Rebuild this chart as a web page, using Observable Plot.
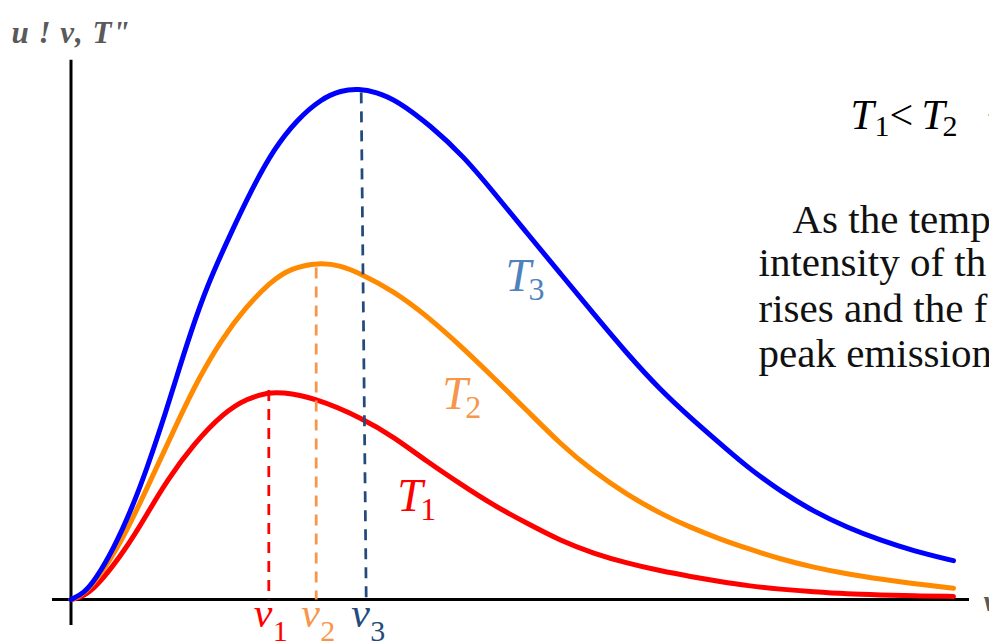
<!DOCTYPE html>
<html><head><meta charset="utf-8">
<script src="https://cdn.jsdelivr.net/npm/d3@7"></script>
<script src="https://cdn.jsdelivr.net/npm/@observablehq/plot@0.6"></script>
<style>html,body{margin:0;padding:0;background:#fff;overflow:hidden;} #chart svg{overflow:hidden;display:block;}</style>
</head><body><div id="chart"></div>
<script>
// ---- data (frequency ν in arbitrary units, spectral energy density u normalised to the T3 peak) ----
const seriesNames = ["T1", "T2", "T3"];
const nuT1 = [0, 0.195, 0.562, 0.762, 0.96, 1.228, 1.528, 1.762, 1.975, 2.095, 2.425, 2.925, 3.228, 3.562, 3.895, 4.228, 4.562, 4.895, 5.228, 5.562, 5.895, 6.195, 6.495, 6.762, 7.095, 7.428, 7.762, 8.095, 8.428, 8.825];
const uT1  = [0, 0.008, 0.102, 0.168, 0.233, 0.305, 0.366, 0.394, 0.405, 0.406, 0.396, 0.354, 0.318, 0.270, 0.226, 0.184, 0.149, 0.115, 0.090, 0.071, 0.056, 0.045, 0.035, 0.027, 0.020, 0.015, 0.011, 0.009, 0.007, 0.006];
const nuT2 = [0, 0.162, 0.5, 0.8, 1.095, 1.275, 1.5, 1.75, 1.995, 2.2, 2.478, 2.7, 2.895, 3.228, 3.562, 3.895, 4.228, 4.562, 4.895, 5.228, 5.562, 5.895, 6.195, 6.495, 6.762, 7.095, 7.428, 7.762, 8.095, 8.428, 8.825];
const uT2  = [0, 0.011, 0.108, 0.235, 0.360, 0.432, 0.508, 0.573, 0.622, 0.649, 0.660, 0.654, 0.638, 0.604, 0.555, 0.497, 0.434, 0.370, 0.304, 0.250, 0.205, 0.168, 0.141, 0.118, 0.100, 0.079, 0.063, 0.050, 0.040, 0.031, 0.022];
const nuT3 = [0, 0.128, 0.245, 0.428, 0.612, 0.762, 0.912, 1.045, 1.2, 1.362, 1.595, 1.812, 2.028, 2.262, 2.5, 2.7, 2.878, 3.05, 3.262, 3.595, 3.925, 4.228, 4.562, 4.895, 5.228, 5.562, 5.895, 6.2, 6.428, 6.762, 7.095, 7.428, 7.762, 8.095, 8.428, 8.825];
const uT3  = [0, 0.012, 0.039, 0.100, 0.180, 0.258, 0.345, 0.429, 0.525, 0.615, 0.716, 0.805, 0.882, 0.940, 0.980, 0.997, 1.000, 0.994, 0.977, 0.928, 0.868, 0.797, 0.717, 0.638, 0.559, 0.481, 0.410, 0.355, 0.316, 0.259, 0.212, 0.172, 0.141, 0.116, 0.095, 0.076];
const peakNuTop    = [1.978, 2.452, 2.902];
const peakNuBottom = [1.978, 2.452, 2.952];
const peakU        = [0.410, 0.650, 0.993];
const peakLabels   = ["ν", "ν", "ν"];
const peakSubs     = ["1", "2", "3"];
const curveLabelNu = [3.262, 3.712, 4.345];
const curveLabelU  = [0.174, 0.374, 0.605];
const curveLabelSubs = ["1", "2", "3"];
const yAxisLabel = "u ! ν, T\"";
const xAxisLabel = "ν";
const paragraphLines = ["As the temp", "intensity of th", "rises and the f", "peak emission"];

// ---- styles ----
const curveColors = ["#ff0000", "#ff8a00", "#0000ff"];
const dashColors  = ["#ff0000", "#f7964a", "#244a7c"];
const labelColors = ["#ff0000", "#f7964a", "#4f81bd"];
const serif = "Liberation Serif, Times New Roman, serif";

const curves = [[nuT1, uT1], [nuT2, uT2], [nuT3, uT3]].map(([xs, ys], i) =>
  xs.map((nu, j) => ({series: seriesNames[i], nu, u: ys[j]})));
const peaks = peakNuTop.map((n, i) => ({i, x1: n, x2: peakNuBottom[i], y1: peakU[i], y2: 0}));
const nuLabels = peakNuBottom.map((n, i) => ({i, nu: n, u: 0, t: peakLabels[i], s: peakSubs[i]}));
const tLabels = curveLabelNu.map((n, i) => ({i, nu: n, u: curveLabelU[i], s: curveLabelSubs[i]}));

const txt = (str, o) => Plot.text([str], {frameAnchor: "top-left", textAnchor: "start", lineAnchor: "bottom", fontFamily: serif, ...o});

const chart = Plot.plot({
  width: 989, height: 644,
  marginTop: 0, marginRight: 0, marginBottom: 0, marginLeft: 0,
  x: {domain: [-0.705, 9.185], range: [0, 989], axis: null},
  y: {domain: [-0.0881, 1.1729], range: [644, 0], axis: null},
  style: {background: "#fff", overflow: "hidden"},
  marks: [
    // axes
    Plot.ruleY([0], {x1: -0.185, x2: 8.985, stroke: "#000", strokeWidth: 3}),
    Plot.ruleX([0], {y1: -0.051, y2: 1.056, stroke: "#000", strokeWidth: 3}),
    // curves
    ...curves.map((c, i) => Plot.line(c, {x: "nu", y: "u", stroke: curveColors[i], strokeWidth: 5, curve: "basis"})),
    // peak markers
    ...peaks.map((p, i) => Plot.link([p], {x1: "x1", x2: "x2", y1: "y1", y2: "y2", stroke: dashColors[i], strokeWidth: 2.75, strokeDasharray: "11,8"})),
    // ν labels
    ...nuLabels.map((d, i) => Plot.text([d], {x: "nu", y: "u", text: "t", fill: dashColors[i], fontFamily: serif, fontStyle: "italic", fontSize: 42, textAnchor: "start", lineAnchor: "bottom", dx: -15, dy: 27})),
    ...nuLabels.map((d, i) => Plot.text([d], {x: "nu", y: "u", text: "s", fill: dashColors[i], fontFamily: serif, fontSize: 30, textAnchor: "start", lineAnchor: "bottom", dx: 4, dy: 41})),
    // T labels
    ...tLabels.map((d, i) => Plot.text([d], {x: "nu", y: "u", text: () => "T", fill: labelColors[i], fontFamily: serif, fontStyle: "italic", fontSize: 46, textAnchor: "start", lineAnchor: "bottom"})),
    ...tLabels.map((d, i) => Plot.text([d], {x: "nu", y: "u", text: "s", fill: labelColors[i], fontFamily: serif, fontSize: 32, textAnchor: "start", lineAnchor: "bottom", dx: 23, dy: 9})),
    // axis labels
    txt(yAxisLabel, {fill: "#5a5a5a", fontWeight: "bold", fontStyle: "italic", fontSize: 31, dx: 11, dy: 42}),
    txt(xAxisLabel, {fill: "#5a5a5a", fontWeight: "bold", fontStyle: "italic", fontSize: 30, dx: 983, dy: 610}),
    // header relation
    txt("T", {fill: "#000", fontStyle: "italic", fontSize: 42, dx: 850, dy: 128}),
    txt("1", {fill: "#000", fontSize: 30, dx: 874, dy: 135}),
    txt("<", {fill: "#000", fontSize: 42, dx: 889, dy: 128}),
    txt("T", {fill: "#000", fontStyle: "italic", fontSize: 42, dx: 921, dy: 128}),
    txt("2", {fill: "#000", fontSize: 30, dx: 942, dy: 135}),
    txt("<", {fill: "#000", fontSize: 42, dx: 986, dy: 128}),
    // paragraph
    ...paragraphLines.map((line, k) => txt(line, {fill: "#111", fontSize: 41, dx: k === 0 ? 792 : 758, dy: [232, 275, 321, 366][k]}))
  ]
});
// widen the axis label spacing a little, as in the reference
d3.select(chart).selectAll("text").filter(function () { return this.textContent === yAxisLabel; }).attr("letter-spacing", "1px");
document.getElementById("chart").appendChild(chart);
</script>
</body></html>
